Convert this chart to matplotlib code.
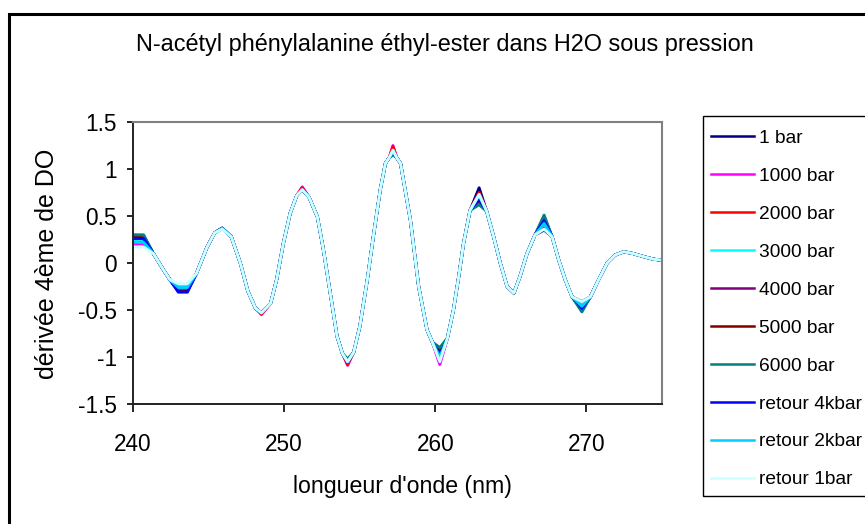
import numpy as np
import matplotlib.pyplot as plt
from matplotlib.patches import Rectangle

plt.rcParams['font.family'] = ['Liberation Sans', 'DejaVu Sans']

# points where all the curves overlap (nm, 4th derivative)
wl_shared = [241.35, 242.0, 242.45,
             244.2, 244.9, 245.4,
             246.5, 247.1, 247.6, 248.1,
             249.1, 249.5, 249.95, 250.4, 250.84,
             251.65, 252.2, 252.6, 253.05, 253.5, 253.85,
             254.6, 255.0, 255.5, 255.9, 256.36, 256.7, 256.95,
             257.45, 257.7, 258.35, 258.9, 259.45, 259.8,
             260.8, 261.2, 261.55, 261.87, 262.3,
             263.4, 263.86, 264.3, 264.75,
             265.6, 266.07, 266.6,
             267.73, 268.17, 268.6, 269.05,
             270.26, 270.8, 271.37, 271.9, 272.47, 273.1, 273.8, 274.46, 275.0]
d_shared = [0.10, -0.07, -0.18,
            -0.11, 0.17, 0.32,
            0.28, 0.0, -0.30, -0.48,
            -0.43, -0.18, 0.21, 0.53, 0.72,
            0.70, 0.49, 0.14, -0.32, -0.78, -0.96,
            -0.95, -0.68, -0.18, 0.28, 0.78, 1.06, 1.12,
            1.12, 1.06, 0.46, -0.25, -0.71, -0.84,
            -0.80, -0.50, -0.145, 0.21, 0.56,
            0.55, 0.28, 0.0, -0.25,
            -0.145, 0.10, 0.30,
            0.28, 0.03, -0.18, -0.36,
            -0.36, -0.18, 0.0, 0.085, 0.12, 0.10, 0.067, 0.04, 0.03]

# extrema, where the series separate
wl_ext = [240.0, 240.7, 243.0, 243.6, 245.9, 248.5, 251.2, 254.2,
          257.2, 260.3, 262.9, 265.2, 267.2, 269.7]

ext_1bar = [0.27, 0.27, -0.30, -0.30, 0.37, -0.53, 0.78, -1.06, 1.21, -1.06, 0.80, -0.32, 0.35, -0.41]
ext_1000 = [0.20, 0.20, -0.27, -0.27, 0.37, -0.55, 0.81, -1.09, 1.25, -1.08, 0.74, -0.32, 0.38, -0.43]
ext_2000 = [0.23, 0.23, -0.27, -0.27, 0.37, -0.54, 0.80, -1.08, 1.24, -1.04, 0.75, -0.32, 0.40, -0.44]
ext_3000 = [0.24, 0.24, -0.24, -0.24, 0.37, -0.53, 0.78, -1.05, 1.20, -1.02, 0.72, -0.32, 0.42, -0.45]
ext_4000 = [0.26, 0.26, -0.28, -0.28, 0.37, -0.53, 0.78, -1.05, 1.18, -0.96, 0.68, -0.32, 0.46, -0.49]
ext_5000 = [0.29, 0.29, -0.28, -0.28, 0.37, -0.53, 0.78, -1.04, 1.17, -0.93, 0.66, -0.32, 0.48, -0.50]
ext_6000 = [0.30, 0.30, -0.27, -0.27, 0.37, -0.53, 0.78, -1.02, 1.15, -0.90, 0.62, -0.32, 0.51, -0.52]
ext_r4k = [0.26, 0.26, -0.31, -0.31, 0.37, -0.53, 0.78, -1.05, 1.19, -0.98, 0.68, -0.32, 0.45, -0.48]
ext_r2k = [0.22, 0.22, -0.26, -0.26, 0.37, -0.53, 0.78, -1.05, 1.19, -1.00, 0.72, -0.32, 0.42, -0.46]
ext_r1 = [0.17, 0.17, -0.22, -0.22, 0.36, -0.53, 0.78, -1.05, 1.20, -1.05, 0.73, -0.32, 0.36, -0.41]

labels = ['1 bar', '1000 bar', '2000 bar', '3000 bar', '4000 bar', '5000 bar',
          '6000 bar', 'retour 4kbar', 'retour 2kbar', 'retour 1bar']
colors = ['#000080', '#FF00FF', '#FF0000', '#00FFFF', '#800080', '#800000',
          '#008080', '#0000FF', '#00CCFF', '#CCFFFF']
series = [ext_1bar, ext_1000, ext_2000, ext_3000, ext_4000, ext_5000,
          ext_6000, ext_r4k, ext_r2k, ext_r1]

yticks = [-1.5, -1, -0.5, 0, 0.5, 1, 1.5]
ytick_labels = ['-1.5', '-1', '-0.5', '0', '0.5', '1', '1.5']
xticks = [240, 250, 260, 270]

W, H = 865, 524
fig = plt.figure(figsize=(W / 100, H / 100), dpi=100)
ax = fig.add_axes([133 / W, 120 / H, 529 / W, 282 / H])

for lab, col, ext in zip(labels, colors, series):
    x = np.array(wl_shared + wl_ext)
    y = np.array(d_shared + ext)
    order = np.argsort(x)
    ax.plot(x[order], y[order], color=col, lw=2.1, label=lab)

ax.set_xlim(240, 275)
ax.set_ylim(-1.5, 1.5)
ax.set_xticks(xticks)
ax.set_xticklabels([str(t) for t in xticks])
ax.set_yticks(yticks)
ax.set_yticklabels(ytick_labels)
ax.tick_params(axis='x', direction='out', length=6, width=1.2, pad=15, labelsize=16.3)
ax.tick_params(axis='y', direction='out', length=4.5, width=1.2, pad=7, labelsize=16.3)

for s in ['left', 'bottom']:
    ax.spines[s].set_color('#222222')
    ax.spines[s].set_linewidth(1.4)
for s in ['top', 'right']:
    ax.spines[s].set_color('#808080')
    ax.spines[s].set_linewidth(1.5)

fig.text(445 / W, 1 - 45 / H, "N-acétyl phénylalanine éthyl-ester dans H2O sous pression",
         ha='center', va='center', fontsize=16.9)
fig.text(402 / W, 1 - 487 / H, "longueur d'onde (nm)", ha='center', va='center', fontsize=16.7)
fig.text(47 / W, 1 - 264 / H, "dérivée 4ème de DO", ha='center', va='center',
         rotation=90, fontsize=18)

# legend box, cut off at the right edge like the source
fig.add_artist(Rectangle((703 / W, 1 - 496 / H), 1, 380 / H, transform=fig.transFigure,
                         fill=True, fc='white', lw=1.0, ec='black'))
leg = fig.legend(loc='upper left', bbox_to_anchor=(703 / W, 1 - 122 / H),
                 frameon=False, borderaxespad=0, fontsize=13.8, labelspacing=1.07,
                 handlelength=2.27, handletextpad=0.25, borderpad=0.4)
for line in leg.get_lines():
    line.set_linewidth(1.8)

# outer chart border, cut off at the right and bottom
fig.add_artist(Rectangle((9 / W, -0.5), 2, 1 - 14 / H + 0.5, transform=fig.transFigure,
                         fill=False, lw=2.2, ec='black'))

fig.savefig('out.png', dpi=100)
